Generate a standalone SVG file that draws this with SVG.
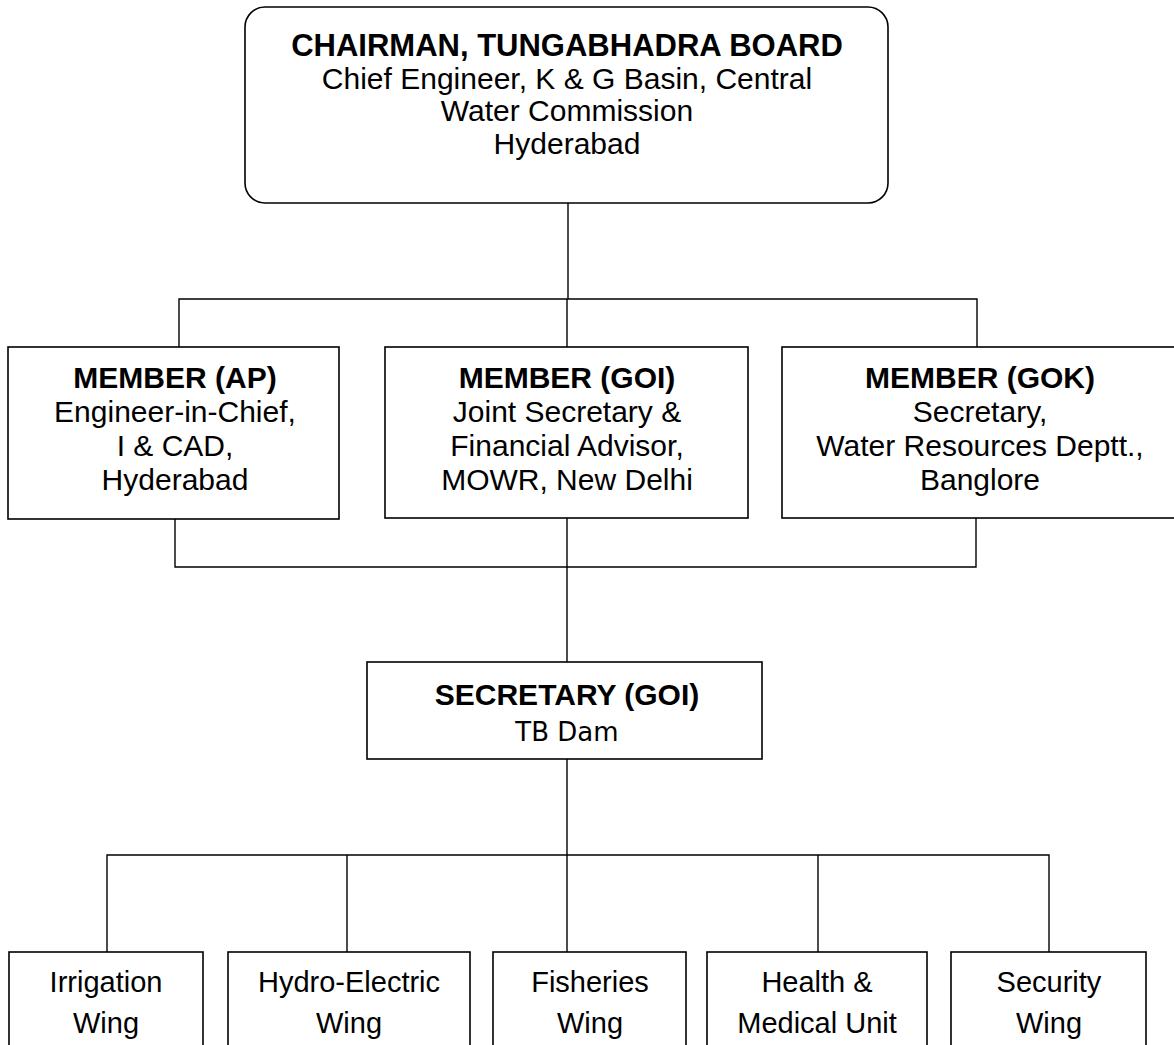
<svg xmlns="http://www.w3.org/2000/svg" width="1174" height="1045" viewBox="0 0 1174 1045">
<style>
.box{fill:#fff;stroke:#000;stroke-width:1.6}
.ln{fill:none;stroke:#000;stroke-width:1.4}
text{font-family:"Liberation Sans",Arial,sans-serif;font-size:30px;fill:#000;text-anchor:middle}
.b{font-weight:bold}
.w{font-size:29px}
.d{font-family:"DejaVu Sans",Verdana,sans-serif;font-size:26px}
</style>
<rect width="1174" height="1045" fill="#fff"/>
<g id="connectors">
<path class="ln" d="M568,203 V299"/>
<path class="ln" d="M179,347 V299 H977 V347"/>
<path class="ln" d="M567,299 V347"/>
<path class="ln" d="M175,519 V567 H976 V518"/>
<path class="ln" d="M567,518 V662"/>
<path class="ln" d="M567,759 V855"/>
<path class="ln" d="M107,952 V855 H1049 V952"/>
<path class="ln" d="M347,855 V952"/>
<path class="ln" d="M567,855 V952"/>
<path class="ln" d="M818,855 V952"/>
</g>
<g id="chairman">
<rect class="box" x="245" y="7" width="643" height="196" rx="20"/>
<text x="567" y="56" class="b" style="font-size:31px">CHAIRMAN, TUNGABHADRA BOARD</text>
<text x="567" y="89">Chief Engineer, K &amp; G Basin, Central</text>
<text x="567" y="121">Water Commission</text>
<text x="567" y="154">Hyderabad</text>
</g>
<g id="member-ap">
<rect class="box" x="8" y="347" width="331" height="172"/>
<text x="175" y="388" class="b">MEMBER (AP)</text>
<text x="175" y="422">Engineer-in-Chief,</text>
<text x="175" y="456">I &amp; CAD,</text>
<text x="175" y="490">Hyderabad</text>
</g>
<g id="member-goi">
<rect class="box" x="385" y="347" width="363" height="171"/>
<text x="567" y="388" class="b">MEMBER (GOI)</text>
<text x="567" y="422">Joint Secretary &amp;</text>
<text x="567" y="456">Financial Advisor,</text>
<text x="567" y="490">MOWR, New Delhi</text>
</g>
<g id="member-gok">
<rect class="box" x="782" y="347" width="400" height="171"/>
<text x="980" y="388" class="b">MEMBER (GOK)</text>
<text x="980" y="422">Secretary,</text>
<text x="980" y="456">Water Resources Deptt.,</text>
<text x="980" y="490">Banglore</text>
</g>
<g id="secretary">
<rect class="box" x="367" y="662" width="395" height="97"/>
<text x="567" y="705" class="b">SECRETARY (GOI)</text>
<text x="567" y="741" class="d">TB Dam</text>
</g>
<g id="irrigation">
<rect class="box" x="9" y="952" width="194" height="110"/>
<text x="106" y="992" class="w">Irrigation</text>
<text x="106" y="1033" class="w">Wing</text>
</g>
<g id="hydro">
<rect class="box" x="228" y="952" width="242" height="110"/>
<text x="349" y="992" class="w">Hydro-Electric</text>
<text x="349" y="1033" class="w">Wing</text>
</g>
<g id="fisheries">
<rect class="box" x="493" y="952" width="193" height="110"/>
<text x="590" y="992" class="w">Fisheries</text>
<text x="590" y="1033" class="w">Wing</text>
</g>
<g id="health">
<rect class="box" x="707" y="952" width="220" height="110"/>
<text x="817" y="992" class="w">Health &amp;</text>
<text x="817" y="1033" class="w">Medical Unit</text>
</g>
<g id="security">
<rect class="box" x="951" y="952" width="195" height="110"/>
<text x="1049" y="992" class="w">Security</text>
<text x="1049" y="1033" class="w">Wing</text>
</g>
</svg>
